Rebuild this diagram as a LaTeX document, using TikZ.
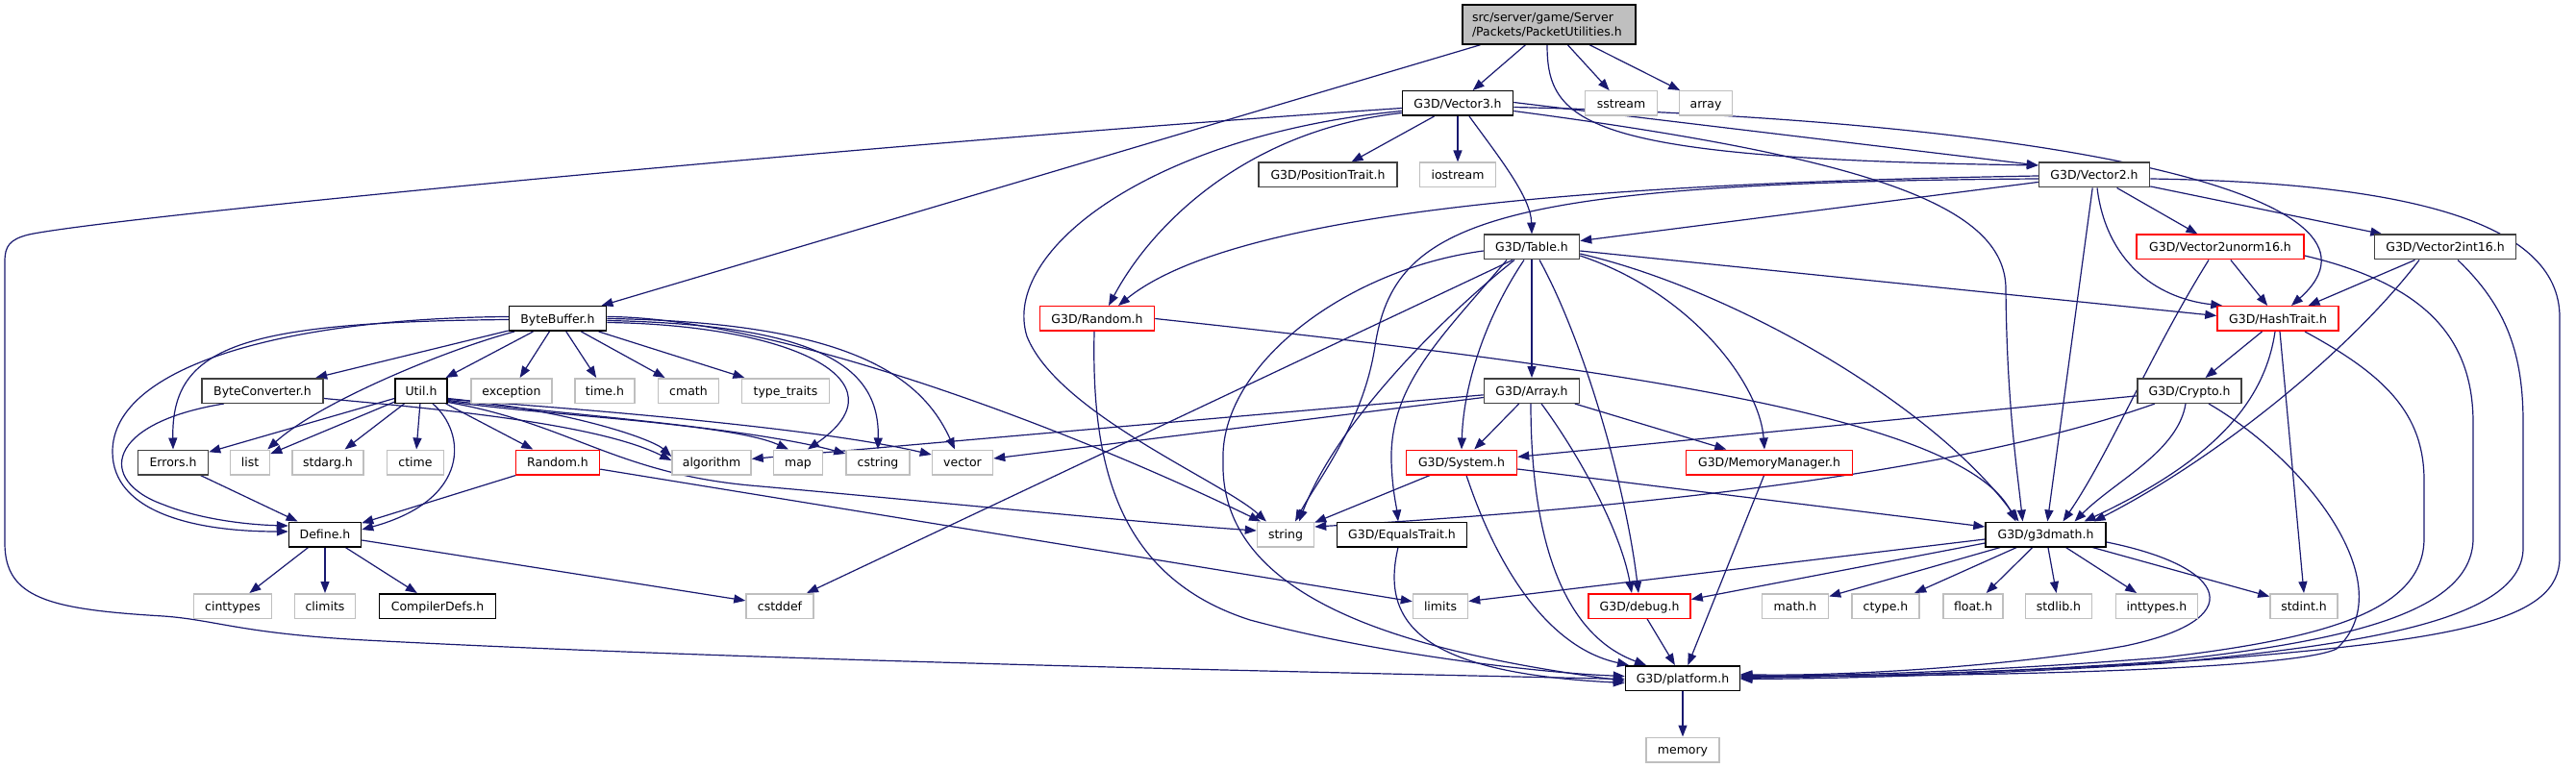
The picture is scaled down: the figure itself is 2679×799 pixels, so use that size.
\documentclass[tikz,border=0pt]{standalone}
\usepackage{fontspec}
\setmainfont{DejaVu Sans}
\usetikzlibrary{arrows.meta}
\definecolor{edgec}{HTML}{191970}
\definecolor{gsev}{HTML}{BFBFBF}
\definecolor{gfour}{HTML}{404040}
\pgfdeclarelayer{edgelayer}
\pgfsetlayers{edgelayer,main}
\tikzset{
  basebox/.style={rectangle, inner sep=0pt, minimum height=25.5pt, fill=white, line width=1.5pt,
    font=\fontsize{12.5pt}{15pt}\selectfont, text height=9.1pt, text depth=0pt},
  nblack/.style={basebox, draw=black},
  ndark/.style={basebox, draw=gfour},
  nred/.style={basebox, draw=red},
  ngray/.style={basebox, draw=gsev},
  rootbox/.style={rectangle, draw=black, fill=gsev, line width=1.5pt, inner xsep=10pt, inner ysep=0pt,
    text width=160pt, align=left, minimum height=41pt, font=\fontsize{12.5pt}{15pt}\selectfont},
  e/.style={draw=edgec, line width=1.2pt, -{Triangle[length=12pt,width=9pt]}},
}
\newcommand\bx[5]{\node[#1, minimum width=#4pt] (#2) at (#3) {#5};}
\begin{document}
\begin{tikzpicture}[x=1pt,y=-1pt]
\begin{pgfonlayer}{edgelayer}
\fill[white] (0,0) rectangle (2679,799);
\end{pgfonlayer}
\useasboundingbox (0,0) rectangle (2679,799);

% ---------- nodes ----------
\node[rootbox, minimum width=180pt] (root) at (1611,25.5) {src/server/game/Server\\/Packets/PacketUtilities.h};
\bx{nblack}{vec3}{1516,107.5}{115}{G3D/Vector3.h}
\bx{ngray}{sstream}{1686,107.5}{75}{sstream}
\bx{ngray}{array}{1774,107.5}{55}{array}
\bx{ndark}{postrait}{1381,182}{144}{G3D/PositionTrait.h}
\bx{ngray}{iostream}{1516,182}{79}{iostream}
\bx{ndark}{vec2}{2178,182}{115}{G3D/Vector2.h}
\bx{ndark}{table}{1593,257}{99}{G3D/Table.h}
\bx{nred}{v2u16}{2309,257}{174}{G3D/Vector2unorm16.h}
\bx{ndark}{v2i16}{2543,257}{147}{G3D/Vector2int16.h}
\bx{nblack}{bytebuf}{580,331.5}{101}{ByteBuffer.h}
\bx{nred}{g3drandom}{1141,331.5}{119}{G3D/Random.h}
\bx{nred}{hashtrait}{2369,331.5}{126}{G3D/HashTrait.h}
\bx{ndark}{byteconv}{273,406.5}{126}{ByteConverter.h}
\bx{nblack}{util}{438,406.5}{54}{Util.h}
\bx{ngray}{exception}{532,406.5}{84}{exception}
\bx{ngray}{timeh}{629,406.5}{62}{time.h}
\bx{ngray}{cmath}{716,406.5}{63}{cmath}
\bx{ngray}{typetraits}{817,406.5}{91}{type\_traits}
\bx{ndark}{garray}{1593,406.5}{99}{G3D/Array.h}
\bx{ndark}{crypto}{2277,406.5}{108}{G3D/Crypto.h}
\bx{ndark}{errors}{180,481}{73}{Errors.h}
\bx{ngray}{list}{260,481}{41}{list}
\bx{ngray}{stdarg}{341,481}{74}{stdarg.h}
\bx{ngray}{ctime}{432,481}{59}{ctime}
\bx{nred}{random}{580,481}{87}{Random.h}
\bx{ngray}{algorithm}{740,481}{82}{algorithm}
\bx{ngray}{map}{830,481}{51}{map}
\bx{ngray}{cstring}{913,481}{66}{cstring}
\bx{ngray}{vector}{1001,481}{63}{vector}
\bx{nred}{system}{1520,481}{115}{G3D/System.h}
\bx{nred}{memmgr}{1840,481}{173}{G3D/MemoryManager.h}
\bx{nblack}{define}{338,556}{75}{Define.h}
\bx{ngray}{string}{1337,556}{59}{string}
\bx{nblack}{equals}{1458,556}{135}{G3D/EqualsTrait.h}
\bx{nblack}{g3dmath}{2127.5,556}{125}{G3D/g3dmath.h}
\bx{ngray}{cinttypes}{242,630.5}{81}{cinttypes}
\bx{ngray}{climits}{338,630.5}{63}{climits}
\bx{nblack}{compilerdefs}{455,630.5}{121}{CompilerDefs.h}
\bx{ngray}{cstddef}{811,630.5}{70}{cstddef}
\bx{ngray}{limits}{1498,630.5}{57}{limits}
\bx{nred}{debug}{1705,630.5}{106}{G3D/debug.h}
\bx{ngray}{mathh}{1867,630.5}{69}{math.h}
\bx{ngray}{ctypeh}{1961,630.5}{70}{ctype.h}
\bx{ngray}{floath}{2052,630.5}{62}{float.h}
\bx{ngray}{stdlibh}{2141,630.5}{69}{stdlib.h}
\bx{ngray}{inttypes}{2243,630.5}{85}{inttypes.h}
\bx{ngray}{stdint}{2396,630.5}{70}{stdint.h}
\bx{nblack}{platform}{1750,705.5}{119}{G3D/platform.h}
\bx{ngray}{memory}{1750,780}{76}{memory}

% ---------- edges ----------
\begin{pgfonlayer}{edgelayer}
% root
\draw[e] (root) -- (bytebuf);
\draw[e] (root) -- (vec3);
\draw[e] (root) -- (sstream);
\draw[e] (root) -- (array);
\draw[e] ([xshift=-2pt]root.south) .. controls (1609,130) and (1650,165) .. ([yshift=10pt]vec2.west);
% vec3
\draw[e] ([yshift=1pt]vec3.east) -- ([yshift=10pt]vec2.west);
\draw[e] (vec3) -- (postrait);
\draw[e] (vec3) -- (iostream);
\draw[e] ([xshift=12pt]vec3.south) .. controls (1560,165) and (1592,205) .. (table.north);
\draw[e] ([yshift=-10pt]vec3.west) .. controls (1300,135) and (1200,230) .. ([xshift=12pt]g3drandom.north);
\draw[e] ([yshift=-8pt]vec3.west) .. controls (1200,140) and (1040,260) .. (1068,350) .. controls (1100,430) and (1270,500) .. ([xshift=-20pt]string.north);
\draw[e] ([yshift=-5pt]vec3.west) .. controls (900,150) and (120,225) .. (30,244) .. controls (10,249) and (5,256) .. (5,272) -- (5,565) .. controls (5,622) and (50,634) .. (170,641) .. controls (225,645) and (250,659) .. (380,666) .. controls (800,688) and (1400,700) .. ([yshift=-1pt]platform.west);
\draw[e] ([yshift=-4pt]vec3.east) .. controls (2150,125) and (2510,205) .. ([xshift=14pt]hashtrait.north);
\draw[e] ([yshift=-8pt]vec3.east) .. controls (1950,165) and (2085,215) .. (2086,300) .. controls (2087,420) and (2098,490) .. ([xshift=-24pt]g3dmath.north);
% vec2
\draw[e] (vec2) -- (table);
\draw[e] ([yshift=-1pt]vec2.west) .. controls (1700,190) and (1290,215) .. ([xshift=22pt]g3drandom.north);
\draw[e] ([yshift=-4pt]vec2.west) .. controls (1550,190) and (1450,230) .. (1430,360) .. controls (1418,440) and (1370,500) .. ([xshift=10pt]string.north);
\draw[e] (vec2) -- (v2u16);
\draw[e] (vec2) -- (v2i16);
\draw[e] ([xshift=3pt]vec2.south) .. controls (2190,270) and (2240,310) .. ([xshift=6pt]hashtrait.north west);
\draw[e] (vec2) -- (g3dmath);
\draw[e] ([yshift=-4pt]vec2.east) .. controls (2500,190) and (2662,230) .. (2662,330) -- (2662,580) .. controls (2662,645) and (2560,665) .. (2300,686) .. controls (2100,700) and (1900,704) .. (platform.east);
% v2u16
\draw[e] (v2u16) -- (hashtrait);
\draw[e] ([xshift=-12pt]v2u16.south) .. controls (2235,370) and (2195,470) .. ([xshift=18pt]g3dmath.north);
\draw[e] ([yshift=-9pt]v2u16.east) .. controls (2520,295) and (2572,350) .. (2572,440) -- (2572,560) .. controls (2572,640) and (2430,668) .. (2250,688) .. controls (2050,702) and (1900,704) .. ([yshift=1pt]platform.east);
% v2i16
\draw[e] (v2i16) -- (hashtrait);
\draw[e] ([xshift=-27pt]v2i16.south) .. controls (2440,370) and (2300,480) .. ([xshift=50pt]g3dmath.north);
\draw[e] ([xshift=13pt]v2i16.south) .. controls (2608,320) and (2624,370) .. (2624,440) -- (2624,570) .. controls (2624,645) and (2460,670) .. (2250,690) .. controls (2050,703) and (1900,706) .. ([yshift=-1pt]platform.east);
% hashtrait
\draw[e] (hashtrait) -- (crypto);
\draw[e] ([xshift=-3pt]hashtrait.south) .. controls (2355,420) and (2300,480) .. ([xshift=40pt]g3dmath.north);
\draw[e] ([xshift=2pt]hashtrait.south) -- (stdint.north);
\draw[e] ([xshift=28pt]hashtrait.south) .. controls (2480,390) and (2521,430) .. (2521,500) -- (2521,560) .. controls (2521,635) and (2420,664) .. (2250,684) .. controls (2050,700) and (1900,703) .. ([yshift=2pt]platform.east);
% crypto
\draw[e] (crypto) -- (system);
\draw[e] ([xshift=-36pt]crypto.south) .. controls (2100,470) and (1850,520) .. ([yshift=8pt]string.east);
\draw[e] ([xshift=-4pt]crypto.south) .. controls (2265,470) and (2200,500) .. ([xshift=30pt]g3dmath.north);
\draw[e] ([xshift=20pt]crypto.south) .. controls (2400,480) and (2500,610) .. (2430,675) .. controls (2380,700) and (1950,705) .. ([yshift=3pt]platform.east);
% table
\draw[e] ([yshift=-4pt]table.east) -- ([yshift=3pt]hashtrait.west);
\draw[e] (table) -- (garray);
\draw[e] ([xshift=-8pt]table.south) .. controls (1545,330) and (1522,400) .. (system.north);
\draw[e] ([yshift=-9pt]table.east) .. controls (1760,305) and (1830,400) .. ([xshift=-5pt]memmgr.north);
\draw[e] ([yshift=-7pt]table.east) .. controls (1800,300) and (2010,420) .. ([xshift=-28pt]g3dmath.north);
\draw[e] ([xshift=-26pt]table.south) .. controls (1500,350) and (1445,400) .. (1447,480) .. controls (1448,510) and (1452,525) .. ([xshift=-4pt]equals.north);
\draw[e] ([xshift=-18pt]table.south) .. controls (1500,330) and (1390,440) .. ([xshift=14pt]string.north);
\draw[e] ([xshift=-20pt]table.south) -- ([xshift=28pt]cstddef.north);
\draw[e] ([xshift=8pt]table.south) .. controls (1645,350) and (1690,500) .. ([xshift=-1pt]debug.north);
\draw[e] ([yshift=-4pt]table.west) .. controls (1400,280) and (1268,380) .. (1272,480) .. controls (1268,630) and (1480,680) .. ([yshift=-3pt]platform.west);
% array
\draw[e] (garray) -- (algorithm);
\draw[e] ([yshift=-7pt]garray.west) -- ([yshift=4pt]vector.east);
\draw[e] (garray) -- (system);
\draw[e] (garray) -- (memmgr);
\draw[e] ([xshift=10pt]garray.south) .. controls (1640,470) and (1685,550) .. ([xshift=-8pt]debug.north);
\draw[e] ([xshift=-1pt]garray.south) .. controls (1592,560) and (1625,660) .. ([xshift=-38pt]platform.north);
% system
\draw[e] (system) -- (string);
\draw[e] ([yshift=-7pt]system.east) -- ([yshift=8pt]g3dmath.west);
\draw[e] ([xshift=5pt]system.south) .. controls (1560,600) and (1615,675) .. ([xshift=-56pt]platform.north);
% others to platform
\draw[e] (memmgr) -- (platform);
\draw[e] ([xshift=-4pt]equals.south) .. controls (1435,650) and (1480,700) .. ([yshift=-5pt]platform.west);
\draw[e] (debug) -- (platform);
\draw[e] ([xshift=-3pt]g3drandom.south) .. controls (1135,480) and (1160,600) .. (1300,645) .. controls (1430,680) and (1600,700) .. ([yshift=2pt]platform.west);
\draw[e] (g3drandom.east) .. controls (1650,380) and (2040,430) .. ([xshift=-31pt]g3dmath.north);
% g3dmath
\draw[e] ([yshift=-5pt]g3dmath.west) -- ([yshift=5pt]limits.east);
\draw[e] ([yshift=-9pt]g3dmath.west) -- ([yshift=7pt]debug.east);
\draw[e] (g3dmath) -- (mathh);
\draw[e] (g3dmath) -- (ctypeh);
\draw[e] (g3dmath) -- (floath);
\draw[e] (g3dmath) -- (stdlibh);
\draw[e] (g3dmath) -- (inttypes);
\draw[e] (g3dmath) -- (stdint);
\draw[e] ([yshift=-8pt]g3dmath.east) .. controls (2320,590) and (2340,645) .. (2210,672) .. controls (2080,695) and (1900,704) .. ([yshift=4pt]platform.east);
% bytebuffer
\draw[e] (bytebuf) -- (byteconv);
\draw[e] (bytebuf) -- (util);
\draw[e] (bytebuf) -- (exception);
\draw[e] (bytebuf) -- (timeh);
\draw[e] (bytebuf) -- (cmath);
\draw[e] (bytebuf) -- (typetraits);
\draw[e] ([yshift=-1pt]bytebuf.west) .. controls (250,335) and (178,360) .. (errors.north);
\draw[e] ([yshift=2pt]bytebuf.west) .. controls (300,331) and (117,380) .. (117,470) .. controls (117,532) and (200,553) .. ([yshift=3pt]define.west);
\draw[e] ([xshift=-45pt]bytebuf.south) .. controls (460,365) and (330,420) .. ([xshift=-3pt]list.north east);
\draw[e] ([yshift=-4pt]bytebuf.east) .. controls (820,338) and (945,395) .. ([xshift=10pt]map.north);
\draw[e] ([yshift=-2pt]bytebuf.east) .. controls (860,338) and (915,385) .. (cstring.north);
\draw[e] (bytebuf.east) .. controls (890,335) and (960,395) .. ([xshift=-8pt]vector.north);
\draw[e] ([yshift=2pt]bytebuf.east) .. controls (800,330) and (1100,440) .. ([xshift=-26pt]string.north);
% util
\draw[e] (util) -- (errors);
\draw[e] (util) -- (list);
\draw[e] (util) -- (stdarg);
\draw[e] (util) -- (ctime);
\draw[e] (util) -- (random);
\draw[e] ([xshift=12pt]util.south) .. controls (485,450) and (490,520) .. ([yshift=5pt]define.east);
\draw[e] ([yshift=-8pt]util.east) .. controls (600,428) and (680,458) .. ([yshift=6pt]algorithm.west);
\draw[e] ([yshift=-11pt]util.east) .. controls (560,432) and (760,440) .. ([xshift=-10pt]map.north);
\draw[e] ([yshift=-10pt]util.east) .. controls (580,430) and (780,445) .. ([yshift=9pt]cstring.west);
\draw[e] ([yshift=-9pt]util.east) .. controls (600,425) and (850,445) .. ([yshift=8pt]vector.west);
\draw[e] ([yshift=-12pt]util.east) .. controls (590,440) and (640,492) .. (780,505) .. controls (950,520) and (1200,545) .. ([yshift=4pt]string.west);
% byteconverter
\draw[e] ([xshift=-40pt]byteconv.south) .. controls (110,440) and (100,500) .. (170,525) .. controls (210,541) and (260,546) .. ([yshift=9pt]define.west);
\draw[e] ([yshift=-8pt]byteconv.east) .. controls (450,425) and (620,440) .. ([yshift=2pt]algorithm.west);
% random, errors, define
\draw[e] (random) -- (define);
\draw[e] (random) -- (limits);
\draw[e] (errors) -- (define);
\draw[e] (define) -- (cinttypes);
\draw[e] (define) -- (climits);
\draw[e] (define) -- (compilerdefs);
\draw[e] (define) -- (cstddef);
\draw[e] (platform) -- (memory);
\end{pgfonlayer}
\end{tikzpicture}
\end{document}
